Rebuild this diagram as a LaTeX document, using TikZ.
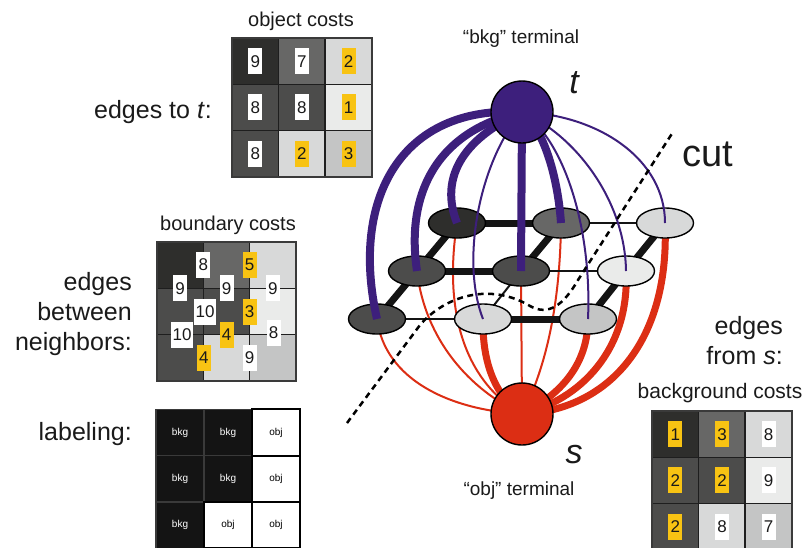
\documentclass[tikz,border=0pt]{standalone}
\usepackage{fontspec}
\setmainfont{Liberation Sans}
\usetikzlibrary{shapes.geometric}
\definecolor{cA}{HTML}{2E2E2C}
\definecolor{cB}{HTML}{676766}
\definecolor{cC}{HTML}{D8D9D9}
\definecolor{cD}{HTML}{4C4C4B}
\definecolor{cE}{HTML}{EAEBEA}
\definecolor{cF}{HTML}{C4C5C5}
\definecolor{tpurple}{HTML}{3D1F7C}
\definecolor{sred}{HTML}{DC2E14}
\definecolor{cyel}{HTML}{F8C313}
\definecolor{gline}{HTML}{1E1E1E}
\definecolor{gouter}{HTML}{3A3A3A}
\definecolor{bkgfill}{HTML}{141414}
\definecolor{txt}{HTML}{1A1A1A}
\pgfdeclarelayer{bg}
\pgfdeclarelayer{top}
\pgfsetlayers{bg,main,top}
\tikzset{
  cell/.style={draw=gline, line width=1.6pt, minimum width=46.6pt, minimum height=46.3pt, inner sep=0pt, outer sep=0pt, anchor=north west},
  lcell/.style={draw=gouter, line width=1.2pt, minimum width=48pt, minimum height=46.3pt, inner sep=0pt, outer sep=0pt, anchor=north west, font=\fontsize{10}{10}\selectfont},
  bkgc/.style={lcell, fill=bkgfill, text=white},
  objc/.style={lcell, fill=white, draw=black, line width=2pt, text=black},
  wlab/.style={fill=white, minimum width=14pt, minimum height=26pt, inner sep=0pt, text=txt, font=\fontsize{17}{17}\selectfont},
  ylab/.style={wlab, fill=cyel},
  wwide/.style={wlab, minimum width=22pt},
  pix/.style={ellipse, draw=black, line width=1.4pt, minimum width=57pt, minimum height=30pt, inner sep=0pt},
  term/.style={circle, draw=black, line width=1.4pt, minimum size=62pt, inner sep=0pt},
  bthick/.style={draw=bkgfill, line width=7pt},
  bthin/.style={draw=bkgfill, line width=2pt},
  pthick/.style={draw=tpurple, line width=8pt},
  pthin/.style={draw=tpurple, line width=2pt},
  rthick/.style={draw=sred, line width=7pt},
  rthin/.style={draw=sred, line width=2pt},
  side/.style={text=txt, font=\fontsize{25}{30}\selectfont},
  title/.style={text=txt, font=\fontsize{20}{24}\selectfont},
  cutline/.style={draw=black, line width=2.5pt, dash pattern=on 6pt off 4.5pt},
}
\begin{document}
\begin{tikzpicture}[x=1pt,y=-1pt]
\useasboundingbox (0,0) rectangle (810,547);

% ---------- object costs grid ----------
\foreach \f [count=\i from 0] in {cA,cB,cC,cD,cD,cE,cD,cC,cF}{
  \pgfmathtruncatemacro\rr{floor(\i/3)}
  \pgfmathtruncatemacro\cc{mod(\i,3)}
  \node[cell, fill=\f] (oc\i) at ({232+46.67*\cc},{38+46.33*\rr}) {};
}
\draw[gouter, line width=2.2pt] (oc0.north west) rectangle (oc8.south east);
\foreach \i/\n/\s in {0/9/wlab,1/7/wlab,2/2/ylab,3/8/wlab,4/8/wlab,5/1/ylab,6/8/wlab,7/2/ylab,8/3/ylab}
  \node[\s] (ol\i) at (oc\i) {\n};
\node[title, anchor=base] (otitle) at (301,26.7) {object costs};

% ---------- boundary costs grid ----------
\foreach \f [count=\i from 0] in {cA,cB,cC,cD,cD,cE,cD,cC,cF}{
  \pgfmathtruncatemacro\rr{floor(\i/3)}
  \pgfmathtruncatemacro\cc{mod(\i,3)}
  \node[cell, fill=\f] (bc\i) at ({157+46.33*\cc},{242+46.33*\rr}) {};
}
\draw[gouter, line width=2.2pt] (bc0.north west) rectangle (bc8.south east);
\node[wlab] (bl1) at (203.3,265) {8};
\node[ylab] (bl2) at (249.7,265) {5};
\node[wlab] (bl3) at (180.2,288.3) {9};
\node[wlab] (bl4) at (226.5,288.3) {9};
\node[wlab] (bl5) at (272.8,288.3) {9};
\node[wwide] (bl6) at (205,311.5) {10};
\node[ylab] (bl7) at (249.7,311.5) {3};
\node[wwide] (bl8) at (182,334.7) {10};
\node[ylab] (bl9) at (226.5,334.7) {4};
\node[wlab] (bl10) at (273.5,332.5) {8};
\node[ylab] (bl11) at (203.8,358) {4};
\node[wlab] (bl12) at (249.7,358) {9};
\node[title, anchor=base] (btitle) at (228,230) {boundary costs};

% ---------- labeling grid ----------
\foreach \s/\t [count=\i from 0] in {bkgc/bkg,bkgc/bkg,objc/obj,bkgc/bkg,bkgc/bkg,objc/obj,bkgc/bkg,objc/obj,objc/obj}{
  \pgfmathtruncatemacro\rr{floor(\i/3)}
  \pgfmathtruncatemacro\cc{mod(\i,3)}
  \node[\s] (lc\i) at ({156+48*\cc},{409.3+46.33*\rr}) {\t};
}

% ---------- background costs grid ----------
\foreach \f [count=\i from 0] in {cA,cB,cC,cD,cD,cE,cD,cC,cF}{
  \pgfmathtruncatemacro\rr{floor(\i/3)}
  \pgfmathtruncatemacro\cc{mod(\i,3)}
  \node[cell, fill=\f] (gc\i) at ({652+46.67*\cc},{411+46.33*\rr}) {};
}
\draw[gouter, line width=2.2pt] (gc0.north west) rectangle (gc8.south east);
\foreach \i/\n/\s in {0/1/ylab,1/3/ylab,2/8/wlab,3/2/ylab,4/2/ylab,5/9/wlab,6/2/ylab,7/8/wlab,8/7/wlab}
  \node[\s] (gl\i) at (gc\i) {\n};
\node[title, anchor=base, font=\fontsize{21}{24}\selectfont] (gtitle) at (720,398) {background costs};

% ---------- side labels ----------
\node[side, anchor=base east, inner sep=0pt] (lt) at (212,118) {edges to \textit{t}:};
\node[side, anchor=east, align=right, inner sep=0pt] (lnb) at (132,314) {edges\\between\\neighbors:};
\node[side, anchor=base east, inner sep=0pt] (llab) at (132,440) {labeling:};
\node[side, anchor=east, align=right, inner sep=0pt] (lfs) at (783,341) {edges\\from \textit{s}:};

% ---------- graph ----------
\node[pix, fill=cA] (n11) at (457,223) {};
\node[pix, fill=cB] (n12) at (561,223) {};
\node[pix, fill=cC] (n13) at (665,223) {};
\node[pix, fill=cD] (n21) at (417,271) {};
\node[pix, fill=cD] (n22) at (521,271) {};
\node[pix, fill=cE] (n23) at (626,271) {};
\node[pix, fill=cD] (n31) at (377,319) {};
\node[pix, fill=cC] (n32) at (483,319) {};
\node[pix, fill=cF] (n33) at (588,319) {};

\begin{pgfonlayer}{top}
\node[term, fill=tpurple] (t) at (522,112) {};
\node[term, fill=sred] (s) at (522,414) {};
\end{pgfonlayer}

\begin{pgfonlayer}{bg}
% edges to s
\draw[rthin]  (n31.center) .. controls (385,380) and (450,410) .. (s.center);
\draw[rthin]  (n21.center) .. controls (425,340) and (470,390) .. (s.center);
\draw[rthin]  (n11.center) .. controls (442,320) and (470,385) .. (s.center);
\draw[rthick] (n32.center) .. controls (482,370) and (500,400) .. (s.center);
\draw[rthin]  (n22.center) -- (s.center);
\draw[rthin]  (n12.center) .. controls (560,320) and (540,380) .. (s.center);
\draw[rthick] (n33.center) .. controls (588,365) and (560,395) .. (s.center);
\draw[rthick] (n23.center) .. controls (630,350) and (580,400) .. (s.center);
\draw[rthick] (n13.center) .. controls (670,340) and (610,410) .. (s.center);
% neighbour edges
\draw[bthick] (n11.center) -- (n12.center);
\draw[bthin]  (n12.center) -- (n13.center);
\draw[bthick] (n21.center) -- (n22.center);
\draw[bthin]  (n22.center) -- (n23.center);
\draw[bthin]  (n31.center) -- (n32.center);
\draw[bthick] (n32.center) -- (n33.center);
\draw[bthick] (n11.center) -- (n21.center);
\draw[bthick] (n12.center) -- (n22.center);
\draw[bthick] (n13.center) -- (n23.center);
\draw[bthick] (n21.center) -- (n31.center);
\draw[bthin]  (n22.center) -- (n32.center);
\draw[bthick] (n23.center) -- (n33.center);
\end{pgfonlayer}

% edges to t
\draw[pthick] (t.center) .. controls (400,105) and (350,200) .. (n31.center);
\draw[pthick] (t.center) .. controls (440,130) and (405,190) .. (n21.center);
\draw[pthick] (t.center) .. controls (460,140) and (440,180) .. (n11.center);
\draw[pthick] (t.center) -- (n22.center);
\draw[pthick] (t.center) .. controls (545,130) and (558,180) .. (n12.center);
\draw[pthin]  (t.center) .. controls (480,160) and (460,260) .. (n32.center);
\draw[pthin]  (t.center) .. controls (565,140) and (592,230) .. (n33.center);
\draw[pthin]  (t.center) .. controls (575,135) and (625,200) .. (n23.center);
\draw[pthin]  (t.center) .. controls (600,115) and (665,160) .. (n13.center);

% cut
\draw[cutline] (347,423) -- (420,325) .. controls (445,296) and (490,282) .. (530,306)
  .. controls (548,316) and (563,306) .. (578,280) -- (673,132);

% terminal labels
\node[text=txt, anchor=base, font=\fontsize{19}{22}\selectfont] (bkgterm) at (521,43.3) {“bkg” terminal};
\node[text=txt, anchor=base, font=\fontsize{19}{22}\selectfont] (objterm) at (519,495) {“obj” terminal};
\node[text=txt, anchor=base, font=\fontsize{34}{34}\selectfont\itshape] (tlab) at (574,93) {t};
\node[text=txt, anchor=base, font=\fontsize{34}{34}\selectfont\itshape] (slab) at (574,463) {s};
\node[text=txt, anchor=base west, inner sep=0pt, font=\fontsize{38}{38}\selectfont] (cutlab) at (682,166) {cut};
\end{tikzpicture}
\end{document}
